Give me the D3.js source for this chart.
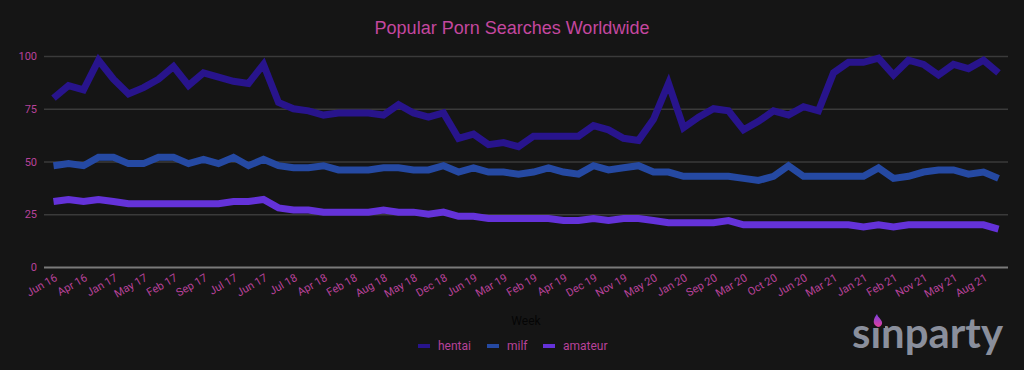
<!DOCTYPE html>
<html>
<head>
<meta charset="utf-8">
<script src="https://cdn.jsdelivr.net/npm/d3@7"></script>
<style>
  html, body { margin: 0; padding: 0; background: #151515; }
</style>
</head>
<body>
<div id="chart"></div>
<script>
// chart data
const tickLabels = ["Jun 16", "Apr 16", "Jan 17", "May 17", "Feb 17", "Sep 17", "Jul 17", "Jun 17",
    "Jul 18", "Apr 18", "Feb 18", "Aug 18", "May 18", "Dec 18", "Jun 19", "Mar 19",
    "Feb 19", "Apr 19", "Dec 19", "Nov 19", "May 20", "Jan 20", "Sep 20", "Mar 20",
    "Oct 20", "Jun 20", "Mar 21", "Jan 21", "Feb 21", "Nov 21", "May 21", "Aug 21"];

const seriesNames = ["hentai", "milf", "amateur"];

const hentai = [80, 86, 84, 98, 89, 82, 85, 89, 95, 86, 92, 90, 88, 87, 96, 78,
    75, 74, 72, 73, 73, 73, 72, 77, 73, 71, 73, 61, 63, 58, 59, 57,
    62, 62, 62, 62, 67, 65, 61, 60, 70, 87, 66, 71, 75, 74, 65, 69,
    74, 72, 76, 74, 92, 97, 97, 99, 91, 98, 96, 91, 96, 94, 98, 92];

const milf = [48, 49, 48, 52, 52, 49, 49, 52, 52, 49, 51, 49, 52, 48, 51, 48,
    47, 47, 48, 46, 46, 46, 47, 47, 46, 46, 48, 45, 47, 45, 45, 44,
    45, 47, 45, 44, 48, 46, 47, 48, 45, 45, 43, 43, 43, 43, 42, 41,
    43, 48, 43, 43, 43, 43, 43, 47, 42, 43, 45, 46, 46, 44, 45, 42];

const amateur = [31, 32, 31, 32, 31, 30, 30, 30, 30, 30, 30, 30, 31, 31, 32, 28,
    27, 27, 26, 26, 26, 26, 27, 26, 26, 25, 26, 24, 24, 23, 23, 23,
    23, 23, 22, 22, 23, 22, 23, 23, 22, 21, 21, 21, 21, 22, 20, 20,
    20, 20, 20, 20, 20, 20, 19, 20, 19, 20, 20, 20, 20, 20, 20, 18];

const yTicks = [0, 25, 50, 75, 100];

const width = 1024, height = 370;
const margin = {top: 56, right: 16, bottom: 103, left: 44};
const colors = ["#28148c", "#2549a2", "#6432d9"];
const pink = "#b8429a";

const svg = d3.select("#chart")
    .append("svg")
    .attr("width", width)
    .attr("height", height)
    .style("font-family", "Roboto, 'Liberation Sans', sans-serif");

svg.append("rect")
    .attr("width", width)
    .attr("height", height)
    .attr("fill", "#151515");

// title
svg.append("text")
    .attr("x", 512)
    .attr("y", 34)
    .attr("text-anchor", "middle")
    .attr("font-family", "'Liberation Sans', Arial, sans-serif")
    .attr("font-size", "18px")
    .attr("fill", "#c4479f")
    .text("Popular Porn Searches Worldwide");

let xScale = d3.scalePoint()
    .domain(d3.range(hentai.length))
    .range([margin.left + 2, width - margin.right - 2])
    .padding(0.5);

let yScale = d3.scaleLinear()
    .domain([0, 100])
    .range([height - margin.bottom, margin.top]);

// grid lines + y labels
const yAxis = svg.append("g")
    .attr("transform", `translate(${margin.left},0)`)
    .call(d3.axisLeft(yScale)
        .tickValues(yTicks)
        .tickSize(-(width - margin.left - margin.right))
        .tickPadding(7));
yAxis.select(".domain").remove();
yAxis.selectAll(".tick line")
    .attr("stroke", (d) => d === 0 ? "#7a7a7a" : "#3a3a3a")
    .attr("stroke-width", (d) => d === 0 ? 2 : 1.5);
yAxis.selectAll(".tick text")
    .attr("fill", pink)
    .attr("font-size", "11px")
    .attr("font-family", "Roboto, sans-serif");

// x labels, every second week
const xAxis = svg.append("g")
    .attr("transform", `translate(0,${height - margin.bottom})`)
    .call(d3.axisBottom(xScale)
        .tickValues(d3.range(0, hentai.length, 2))
        .tickFormat((d) => tickLabels[d / 2])
        .tickSize(0));
xAxis.select(".domain").remove();
xAxis.selectAll(".tick text")
    .attr("fill", pink)
    .attr("font-size", "11px")
    .attr("font-family", "Roboto, sans-serif")
    .attr("text-anchor", "end")
    .attr("dy", 0)
    .attr("transform", "translate(4,13) rotate(-30)")
    .attr("y", 0);

// lines
const allSeries = [hentai, milf, amateur];
const line = d3.line()
    .x((d, i) => xScale(i))
    .y((d) => yScale(d));

svg.selectAll(".series")
    .data(allSeries)
    .enter()
    .append("path")
    .attr("class", "series")
    .attr("d", (d) => line(d))
    .attr("fill", "none")
    .attr("stroke", (d, i) => colors[i])
    .attr("stroke-width", 7)
    .attr("stroke-linejoin", "miter")
    .attr("stroke-miterlimit", 3);

// axis title, almost invisible on the dark background
svg.append("text")
    .attr("x", 526)
    .attr("y", 325)
    .attr("text-anchor", "middle")
    .attr("font-size", "12px")
    .attr("fill", "#050505")
    .text("Week");

// legend
const legendX = [418, 487, 543];
const legend = svg.selectAll(".legend")
    .data(seriesNames)
    .enter()
    .append("g")
    .attr("class", "legend")
    .attr("transform", (d, i) => `translate(${legendX[i]},346)`);
legend.append("line")
    .attr("x1", 0).attr("x2", 12)
    .attr("stroke", (d, i) => colors[i])
    .attr("stroke-width", 4);
legend.append("text")
    .attr("x", 20)
    .attr("y", 4)
    .attr("font-size", "12px")
    .attr("fill", pink)
    .text((d) => d);

// logo
svg.append("text")
    .attr("x", 852)
    .attr("y", 348)
    .attr("font-family", "Lato, 'Open Sans', sans-serif")
    .attr("font-weight", "bold")
    .attr("font-size", "42px")
    .attr("textLength", 151)
    .attr("lengthAdjust", "spacingAndGlyphs")
    .attr("fill", "#8a8f9c")
    .text("sinparty");

const flame = d3.path();
flame.moveTo(878, 327);
flame.bezierCurveTo(872, 325, 873, 319, 877, 314);
flame.bezierCurveTo(878, 318, 883, 320, 882, 324);
flame.bezierCurveTo(881, 326, 880, 327, 878, 327);
const grad = svg.append("defs").append("linearGradient")
    .attr("id", "flame").attr("x1", 0).attr("y1", 0).attr("x2", 0).attr("y2", 1);
grad.append("stop").attr("offset", 0).attr("stop-color", "#7a3fe0");
grad.append("stop").attr("offset", 1).attr("stop-color", "#e0409a");
svg.append("rect")
    .attr("x", 871).attr("y", 312).attr("width", 14).attr("height", 16)
    .attr("fill", "#151515");
svg.append("path")
    .attr("d", flame.toString())
    .attr("fill", "url(#flame)");
</script>
</body>
</html>
